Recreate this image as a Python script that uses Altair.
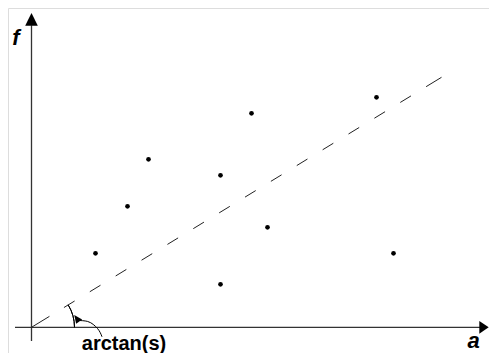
import math
import altair as alt
import pandas as pd

# ---- data (1 unit = 10 px in the reference, origin at the axes' crossing) ----
pt_a = [6.4, 9.6, 11.7, 18.9, 18.9, 22.0, 23.6, 34.5, 36.2]
pt_f = [7.4, 12.1, 16.8, 15.2, 4.3, 21.4, 10.0, 23.0, 7.4]

fit_a = [0.0, 41.0]
fit_f = [0.0, 25.0]
slope_angle_deg = 31.4  # arctan(s)

# axes extents
xaxis_a = [-1.65, 44.9]
yaxis_f = [-1.37, 30.2]
up_arrow_pos = (0.0, 30.8)
right_arrow_pos = (45.25, 0.0)

# annotation curve (arrow from label to the angle arc)
curve_a = [4.80, 5.68, 6.18, 6.62, 6.90, 7.05]
curve_f = [0.68, 0.63, 0.30, -0.10, -0.55, -0.95]
arrowhead_a, arrowhead_f = 4.52, 0.90

labels_t = ["arctan(s)", "f", "a"]
labels_a = [9.25, -1.55, 44.2]
labels_f = [-2.22, 28.23, -2.1]

W, H = 481, 345
ox, oy = 31.5 - 8, 327.3 - 8  # origin in chart px
xdom = [-ox / 10, (W - ox) / 10]
ydom = [(oy - H) / 10, oy / 10]

xs = alt.Scale(domain=xdom, nice=False, zero=False)
ys = alt.Scale(domain=ydom, nice=False, zero=False)


def X(f="a"):
    return alt.X(f"{f}:Q", scale=xs, axis=None)


def Y(f="f"):
    return alt.Y(f"{f}:Q", scale=ys, axis=None)


AX = "#333333"

# axes
xaxis = alt.Chart(pd.DataFrame({"a": [xaxis_a[0]], "a2": [xaxis_a[1]], "f": [0.0]})).mark_rule(
    color=AX, strokeWidth=1.3).encode(x=X(), x2="a2:Q", y=Y())
yaxis = alt.Chart(pd.DataFrame({"a": [0.0], "f": [yaxis_f[0]], "f2": [yaxis_f[1]]})).mark_rule(
    color=AX, strokeWidth=1.3).encode(x=X(), y=Y(), y2="f2:Q")

up_arrow = alt.Chart(pd.DataFrame({"a": [up_arrow_pos[0]], "f": [up_arrow_pos[1]]})).mark_point(
    shape="M0,-1L1,1L-1,1Z", filled=True, color="black", opacity=1, size=160, strokeWidth=0
).encode(x=X(), y=Y())
right_arrow = alt.Chart(pd.DataFrame({"a": [right_arrow_pos[0]], "f": [right_arrow_pos[1]]})).mark_point(
    shape="M1,0L-1,-1.35L-1,1.35Z", filled=True, color="black", opacity=1, size=88, strokeWidth=0
).encode(x=X(), y=Y())

# dashed fitted line
dash = [21, 17] + [12.5, 17.8] * 14 + [20, 60]
fit = alt.Chart(pd.DataFrame({"a": fit_a, "f": fit_f})).mark_line(
    color="#222222", strokeWidth=1, strokeDash=dash).encode(x=X(), y=Y())

# points
pts = alt.Chart(pd.DataFrame({"a": pt_a, "f": pt_f})).mark_circle(
    color="black", opacity=1, size=22).encode(x=X(), y=Y())

# angle arc
th1 = math.pi / 2 - math.radians(slope_angle_deg)
arc = alt.Chart(pd.DataFrame({"a": [0.0], "f": [0.0]})).mark_arc(
    radius=43, radius2=43, theta=th1, theta2=math.pi / 2, filled=False,
    stroke="black", strokeWidth=1, fillOpacity=0
).encode(x=X(), y=Y())

# curved arrow
curve = alt.Chart(pd.DataFrame({"a": curve_a, "f": curve_f, "o": list(range(len(curve_a)))})).mark_line(
    color="black", strokeWidth=1, interpolate="basis").encode(x=X(), y=Y(), order="o:Q")
head = alt.Chart(pd.DataFrame({"a": [arrowhead_a], "f": [arrowhead_f]})).mark_point(
    shape="M0,-1L0.9,1L-0.9,1Z", filled=True, color="black", opacity=1, size=69, angle=324, strokeWidth=0
).encode(x=X(), y=Y())

# labels
labels_df = pd.DataFrame({"a": labels_a, "f": labels_f, "t": labels_t})
lab_arc = alt.Chart(labels_df.iloc[[0]]).mark_text(
    font="Liberation Sans", fontWeight="bold", fontSize=20, baseline="alphabetic", align="center", color="black"
).encode(x=X(), y=Y(), text="t:N")
lab_ax = alt.Chart(labels_df.iloc[[1, 2]]).mark_text(
    font="Liberation Sans", fontWeight="bold", fontStyle="italic", fontSize=22, baseline="alphabetic",
    align="center", color="black"
).encode(x=X(), y=Y(), text="t:N")

chart = alt.layer(xaxis, yaxis, fit, arc, curve, head, pts, up_arrow, right_arrow, lab_arc, lab_ax).properties(
    width=W, height=H, autosize=alt.AutoSizeParams(type="none"), padding=0
).configure_view(stroke=None).configure(background="white")

chart.save("out.html", embed_options={"renderer": "svg", "actions": False})
